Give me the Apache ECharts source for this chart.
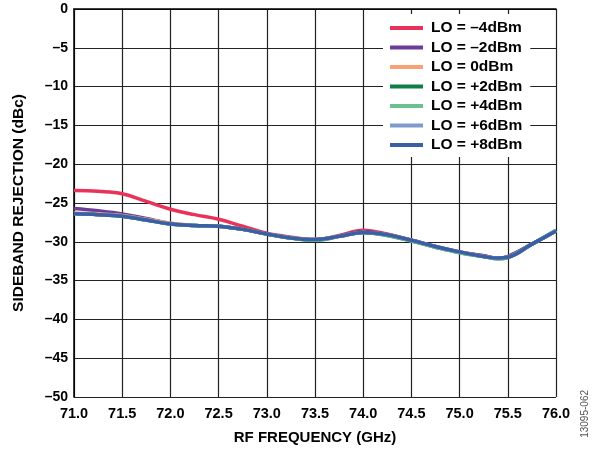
<!DOCTYPE html>
<html>
  <head>
    <meta charset="utf-8">
    <script src="https://cdn.jsdelivr.net/npm/echarts@6.0.0/dist/echarts.min.js"></script>
    <style>
      html, body { margin: 0; padding: 0; background: #fff; }
      #chart { width: 597px; height: 450px; }
    </style>
  </head>
  <body>
    <div id="chart"></div>
    <script>
      // frequency points (GHz)
      const freq = [71.0, 71.25, 71.5, 71.75, 72.0, 72.25, 72.5, 72.75, 73.0, 73.25, 73.5, 73.75, 74.0, 74.25, 74.5, 74.75, 75.0, 75.25, 75.4, 75.5, 75.75, 76.0];
      // sideband rejection (dBc) per LO power
      const loM4 = [-23.4, -23.5, -23.8, -24.8, -25.8, -26.5, -27.1, -28.0, -28.9, -29.4, -29.7, -29.2, -28.5, -29.0, -29.8, -30.6, -31.3, -31.8, -32.1, -31.9, -30.3, -28.6];
      const loM2 = [-25.7, -26.0, -26.4, -27.0, -27.6, -27.9, -28.0, -28.4, -29.0, -29.5, -29.7, -29.3, -28.7, -29.1, -29.8, -30.6, -31.3, -31.8, -32.1, -31.9, -30.3, -28.6];
      const lo0  = [-26.3, -26.4, -26.6, -27.1, -27.6, -27.9, -28.0, -28.4, -29.0, -29.5, -29.7, -29.3, -28.8, -29.1, -29.8, -30.6, -31.3, -31.9, -32.1, -32.0, -30.3, -28.6];
      const loP2 = [-26.4, -26.5, -26.7, -27.2, -27.7, -27.9, -28.0, -28.4, -29.0, -29.5, -29.8, -29.3, -28.8, -29.2, -29.9, -30.7, -31.4, -31.9, -32.2, -32.0, -30.3, -28.5];
      const loP4 = [-26.4, -26.5, -26.7, -27.2, -27.7, -27.9, -28.0, -28.4, -29.0, -29.5, -29.8, -29.3, -28.8, -29.2, -29.9, -30.7, -31.4, -31.9, -32.2, -32.0, -30.3, -28.5];
      const loP6 = [-26.4, -26.5, -26.7, -27.2, -27.7, -27.9, -28.0, -28.4, -29.0, -29.5, -29.7, -29.3, -28.8, -29.1, -29.8, -30.6, -31.3, -31.9, -32.1, -32.0, -30.3, -28.6];
      const loP8 = [-26.4, -26.5, -26.7, -27.2, -27.7, -27.9, -28.0, -28.4, -29.0, -29.5, -29.7, -29.3, -28.8, -29.1, -29.8, -30.6, -31.3, -31.9, -32.1, -32.0, -30.3, -28.6];

      const names = ['LO = \u20134dBm', 'LO = \u20132dBm', 'LO = 0dBm', 'LO = +2dBm', 'LO = +4dBm', 'LO = +6dBm', 'LO = +8dBm'];
      const colors = ['#e8325a', '#6a3d9a', '#f7a274', '#0f7f45', '#6cc08f', '#7f9acb', '#3a5fa5'];
      const values = [loM4, loM2, lo0, loP2, loP4, loP6, loP8];

      const font = 'Arial, "Liberation Sans", sans-serif';

      const chart = echarts.init(document.getElementById('chart'), null, { renderer: 'canvas' });
      chart.setOption({
        animation: false,
        backgroundColor: '#fff',
        grid: { left: 74, right: 41, top: 9, bottom: 53 },
        legend: {
          orient: 'vertical',
          left: 383,
          top: 14,
          width: 163,
          padding: [6, 8, 4, 7],
          backgroundColor: '#fff',
          itemWidth: 33,
          itemHeight: 4,
          itemGap: 3.5,
          icon: 'rect',
          textStyle: { fontFamily: font, fontWeight: 'bold', fontSize: 15.5, color: '#000', padding: [0, 0, 0, 3] },
          data: names
        },
        xAxis: {
          type: 'value',
          min: 71, max: 76, interval: 0.5,
          name: 'RF FREQUENCY (GHz)',
          nameLocation: 'middle',
          nameGap: 33,
          nameTextStyle: { fontFamily: font, fontWeight: 'bold', fontSize: 15, color: '#000' },
          axisLine: { lineStyle: { color: '#000', width: 1.5 } },
          axisTick: { show: false },
          axisLabel: {
            margin: 9,
            fontFamily: font, fontWeight: 'bold', fontSize: 14.5, color: '#000',
            formatter: v => v.toFixed(1)
          },
          splitLine: { show: true, lineStyle: { color: '#222', width: 1.2 } }
        },
        yAxis: {
          type: 'value',
          min: -50, max: 0, interval: 5,
          name: 'SIDEBAND REJECTION (dBc)',
          nameLocation: 'middle',
          nameGap: 47,
          nameTextStyle: { fontFamily: font, fontWeight: 'bold', fontSize: 15.5, color: '#000' },
          axisLine: { show: true, lineStyle: { color: '#000', width: 1.5 } },
          axisTick: { show: false },
          axisLabel: {
            margin: 6,
            fontFamily: font, fontWeight: 'bold', fontSize: 14, color: '#000',
            formatter: v => (v < 0 ? '\u2013' + Math.abs(v) : String(v))
          },
          splitLine: { show: true, lineStyle: { color: '#222', width: 1.2 } }
        },
        graphic: [{
          type: 'text',
          left: 580,
          top: 390,
          rotation: Math.PI / 2,
          style: { text: '13095-062', fontFamily: font, fontSize: 10, fill: '#555' }
        }],
        series: names.map((n, i) => ({
          name: n,
          type: 'line',
          smooth: 0.4,
          showSymbol: false,
          z: 2 + i,
          color: colors[i],
          lineStyle: { width: 3.5, color: colors[i] },
          data: freq.map((f, j) => [f, values[i][j]])
        }))
      });
    </script>
  </body>
</html>
